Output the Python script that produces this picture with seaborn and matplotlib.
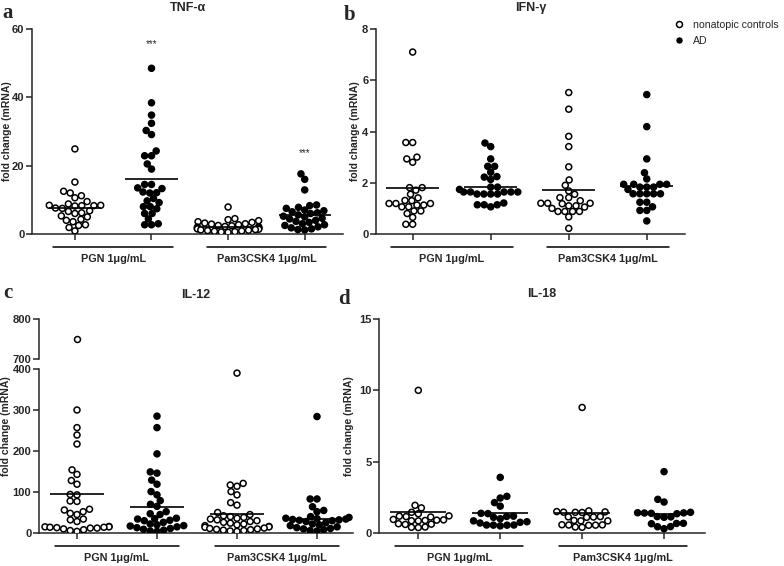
import numpy as np
import pandas as pd
import matplotlib
matplotlib.use('Agg')
import matplotlib.pyplot as plt
import matplotlib.transforms as mtransforms
from matplotlib.lines import Line2D
import seaborn as sns
import warnings
warnings.filterwarnings('ignore')

sns.set_style('ticks')
plt.rcParams['font.family'] = ['Liberation Sans', 'DejaVu Sans']
plt.rcParams['font.weight'] = 'bold'
plt.rcParams['axes.titleweight'] = 'bold'
plt.rcParams['axes.labelweight'] = 'bold'

groups = ['nonatopic controls', 'AD']
stimuli = ['PGN 1\u03bcg/mL', 'Pam3CSK4 1\u03bcg/mL']
cats = ['PGN_nc', 'PGN_AD', 'Pam_nc', 'Pam_AD']
cat_group = ['nonatopic controls', 'AD', 'nonatopic controls', 'AD']

# TNF-alpha
tnf_pgn_nc = [24.9, 15.2, 12.5, 12.0, 11.2, 10.6, 9.5, 8.8, 8.4, 8.3, 8.2, 8.4, 8.3, 7.6,
              7.5, 6.8, 6.6, 6.2, 6.0, 5.3, 5.0, 4.3, 4.0, 3.6, 2.7, 2.5, 1.9, 0.9]
tnf_pgn_ad = [48.5, 38.4, 34.8, 32.4, 30.3, 29.1, 24.3, 22.9, 22.9, 20.5, 19.0, 14.5, 14.5,
              13.5, 13.3, 12.3, 12.1, 12.0, 10.4, 9.7, 9.2, 8.0, 8.0, 7.4, 6.0, 6.0, 4.4,
              3.0, 2.7, 2.7]
tnf_pam_nc = [7.9, 4.5, 4.2, 3.9, 3.6, 3.4, 3.2, 3.0, 2.9, 2.7, 2.5, 2.4, 2.2, 2.1, 2.0,
              1.9, 1.8, 1.7, 1.6, 1.5, 1.4, 1.3, 1.2, 1.1, 1.0, 0.9, 0.8, 0.7, 0.6, 0.5]
tnf_pam_ad = [17.6, 16.0, 12.9, 8.5, 8.3, 7.8, 7.5, 7.0, 6.8, 6.5, 6.2, 6.0, 5.6, 5.2, 5.0,
              4.6, 4.4, 4.0, 3.7, 3.4, 3.0, 2.7, 2.5, 2.1, 1.8, 1.5, 1.3, 1.2]
tnf_means = [7.7, 16.2, 2.0, 5.5]

# IFN-gamma
ifn_pgn_nc = [7.1, 3.57, 3.57, 3.0, 2.93, 2.8, 1.81, 1.81, 1.71, 1.55, 1.41, 1.31, 1.3,
              1.19, 1.19, 1.19, 1.13, 1.13, 1.06, 1.06, 0.9, 0.9, 0.8, 0.65, 0.38, 0.38]
ifn_pgn_ad = [3.55, 3.41, 2.93, 2.64, 2.64, 2.41, 2.24, 2.22, 2.13, 1.83, 1.83, 1.74, 1.64,
              1.64, 1.64, 1.64, 1.64, 1.56, 1.56, 1.56, 1.56, 1.21, 1.14, 1.14, 1.14, 1.06]
ifn_pam_nc = [5.52, 4.87, 3.81, 3.41, 2.62, 2.11, 1.90, 1.68, 1.55, 1.42, 1.42, 1.3, 1.2,
              1.2, 1.2, 1.18, 1.1, 1.1, 1.05, 1.0, 0.88, 0.88, 0.88, 0.88, 0.67, 0.22]
ifn_pam_ad = [5.44, 4.19, 2.93, 2.39, 2.15, 1.94, 1.94, 1.94, 1.94, 1.83, 1.83, 1.83, 1.74,
              1.57, 1.57, 1.57, 1.57, 1.57, 1.24, 1.24, 1.06, 0.92, 0.92, 0.51]
ifn_means = [1.81, 1.85, 1.73, 1.86]

# IL-12
il12_pgn_nc = [749, 300, 257, 239, 217, 154, 143, 128, 119, 94, 93, 78, 77, 58, 56, 52, 48,
               45, 34, 32, 28, 16, 15, 15, 14, 14, 13, 12, 12, 10, 8, 6, 4]
il12_pgn_ad = [285, 257, 193, 149, 146, 129, 119, 101, 93, 79, 70, 65, 52, 47, 45, 36, 35,
               34, 31, 30, 26, 22, 20, 18, 17, 15, 13, 11, 9, 7, 5, 4]
il12_pam_nc = [390, 121, 117, 114, 101, 93, 74, 68, 50, 45, 42, 40, 38, 36, 34, 32, 30, 28,
               26, 24, 22, 20, 18, 16, 15, 14, 12, 11, 10, 9, 8, 7, 6, 5, 4]
il12_pam_ad = [284, 83, 83, 64, 55, 52, 40, 38, 36, 35, 34, 33, 32, 31, 30, 28, 25, 22, 20,
               18, 15, 13, 11, 10, 8, 6, 5]
il12_means = [94, 63, 46, 35]

# IL-18
il18_pgn_nc = [10.0, 1.94, 1.76, 1.45, 1.35, 1.2, 1.18, 1.15, 1.12, 0.95, 0.92, 0.9, 0.88,
               0.86, 0.85, 0.65, 0.62, 0.6, 0.42, 0.4, 0.38]
il18_pgn_ad = [3.9, 2.57, 2.45, 2.13, 1.88, 1.38, 1.36, 1.18, 1.16, 1.1, 1.0, 0.85, 0.79,
               0.75, 0.7, 0.56, 0.56, 0.55, 0.55, 0.5]
il18_pam_nc = [8.8, 1.55, 1.5, 1.48, 1.46, 1.45, 1.44, 1.15, 1.13, 1.12, 1.1, 0.88, 0.85,
               0.85, 0.58, 0.57, 0.56, 0.55, 0.54, 0.42, 0.4]
il18_pam_ad = [4.3, 2.36, 2.17, 1.45, 1.42, 1.41, 1.4, 1.38, 1.35, 1.15, 1.13, 1.1, 0.68,
               0.67, 0.65, 0.45, 0.44, 0.3]
il18_means = [1.44, 1.43, 1.38, 1.31]


def make_df(series):
    rows = []
    for cat, grp, vals in zip(cats, cat_group, series):
        for v in vals:
            rows.append((cat, grp, v))
    return pd.DataFrame(rows, columns=['cat', 'group', 'value'])


W, H = 784, 566
fig = plt.figure(figsize=(W / 100, H / 100), dpi=100)


def add_ax(x0, x1, ytop, ybot):
    return fig.add_axes([x0 / W, 1 - ybot / H, (x1 - x0) / W, (ybot - ytop) / H])


pal = {'nonatopic controls': 'white', 'AD': 'black'}
swarm_colls = []
MS = 4.3  # drawn marker size (pt)


def swarm(ax, df, xlim, ylim, yticks):
    n0 = len(ax.collections)
    # lay the swarm out with a smaller marker so clusters stay compact (Prism-like overlap)
    sns.swarmplot(data=df, x='cat', y='value', hue='group', order=cats, hue_order=groups,
                  palette=pal, edgecolor='black', linewidth=1.1, size=3.6,
                  legend=False, ax=ax)
    swarm_colls.extend(ax.collections[n0:])
    ax.set_xlim(xlim)
    ax.set_ylim(ylim)
    ax.set_yticks(yticks)
    ax.set_xlabel('')
    ax.set_ylabel('')
    sns.despine(ax=ax)
    for s in ['left', 'bottom']:
        ax.spines[s].set_linewidth(1.1)
    ax.tick_params(length=4, width=1.1, labelsize=8, pad=1.5)


def means_and_groups(ax, means):
    for i, m in enumerate(means):
        ax.hlines(m, i - 0.34, i + 0.34, color='black', lw=1.2, zorder=5)
    ax.set_xticks(range(len(cats)))
    ax.set_xticklabels([])
    line_tr = mtransforms.offset_copy(ax.get_xaxis_transform(), fig=fig, y=-13, units='dots')
    text_tr = mtransforms.offset_copy(ax.get_xaxis_transform(), fig=fig, y=-25, units='dots')
    for k, lab in enumerate(stimuli):
        c = 2 * k + 0.5
        ax.plot([c - 0.78, c + 0.78], [0, 0], transform=line_tr, color='black', lw=1.1,
                clip_on=False)
        ax.text(c, 0, lab, transform=text_tr, ha='center', va='center', fontsize=7.8)


ylab = 'fold change (mRNA)'

# a: TNF-alpha
ax_a = add_ax(32, 343, 29, 234)
swarm(ax_a, make_df([tnf_pgn_nc, tnf_pgn_ad, tnf_pam_nc, tnf_pam_ad]),
      (-0.56, 3.5), (0, 60), [0, 20, 40, 60])
means_and_groups(ax_a, tnf_means)
ax_a.set_ylabel(ylab, fontsize=7.5)
ax_a.yaxis.set_label_coords(-0.063, 0.5)
ax_a.set_title('TNF-\u03b1', fontsize=9, pad=13)
ax_a.text(1, 55.5, '***', ha='center', va='center', fontsize=7, fontweight='normal')
ax_a.text(3, 23.7, '***', ha='center', va='center', fontsize=7, fontweight='normal')

# b: IFN-gamma
ax_b = add_ax(376, 685, 29, 234)
swarm(ax_b, make_df([ifn_pgn_nc, ifn_pgn_ad, ifn_pam_nc, ifn_pam_ad]),
      (-0.47, 3.49), (0, 8), [0, 2, 4, 6, 8])
means_and_groups(ax_b, ifn_means)
ax_b.set_ylabel(ylab, fontsize=7.5)
ax_b.yaxis.set_label_coords(-0.053, 0.5)
ax_b.set_title('IFN-\u03b3', fontsize=9, pad=13)

# c: IL-12 with broken axis
il12_df = make_df([il12_pgn_nc, il12_pgn_ad, il12_pam_nc, il12_pam_ad])
ax_c = add_ax(39, 353, 369, 533)
swarm(ax_c, il12_df[il12_df.value <= 400], (-0.475, 3.45), (0, 400), [0, 100, 200, 300, 400])
means_and_groups(ax_c, il12_means)
ax_c2 = add_ax(39, 353, 319, 359)
swarm(ax_c2, il12_df[il12_df.value > 400], (-0.475, 3.45), (700, 800), [700, 800])
ax_c2.spines['bottom'].set_visible(False)
ax_c2.set_xticks([])
ax_c2.set_title('IL-12', fontsize=9, pad=15)
ax_c.set_ylabel(ylab, fontsize=7.5)
ax_c.yaxis.set_label_coords(-0.088, 0.65)

# d: IL-18
ax_d = add_ax(379, 705, 319, 533)
swarm(ax_d, make_df([il18_pgn_nc, il18_pgn_ad, il18_pam_nc, il18_pam_ad]),
      (-0.48, 3.5), (0, 15), [0, 5, 10, 15])
means_and_groups(ax_d, il18_means)
ax_d.set_ylabel(ylab, fontsize=7.5)
ax_d.yaxis.set_label_coords(-0.078, 0.5)
ax_d.set_title('IL-18', fontsize=9, pad=16)

# panel letters
for lt, px, py in [('a', 8, 13), ('b', 350, 15), ('c', 8, 293), ('d', 344, 299)]:
    fig.text(px / W, 1 - py / H, lt, ha='center', va='center', fontsize=15,
             fontweight='bold', family=['Liberation Serif', 'DejaVu Serif'])

handles = [Line2D([], [], marker='o', ls='none', mfc='white', mec='black', mew=1.1, ms=MS),
           Line2D([], [], marker='o', ls='none', mfc='black', mec='black', mew=1.0, ms=3.6)]
leg = fig.legend(handles, groups, loc='upper left', bbox_to_anchor=(674 / W, 1 - 20 / H),
                 frameon=False, fontsize=7.6, handlelength=1.0, handletextpad=0.8,
                 labelspacing=0.55, borderpad=0, borderaxespad=0)
for t in leg.get_texts():
    t.set_fontweight('normal')

# run the beeswarm layout once, then freeze it and enlarge the markers
fig.canvas.draw()
for coll in swarm_colls:
    if 'draw' in coll.__dict__:
        del coll.draw
    coll.set_sizes([MS ** 2])

fig.savefig('out.png', dpi=100)
